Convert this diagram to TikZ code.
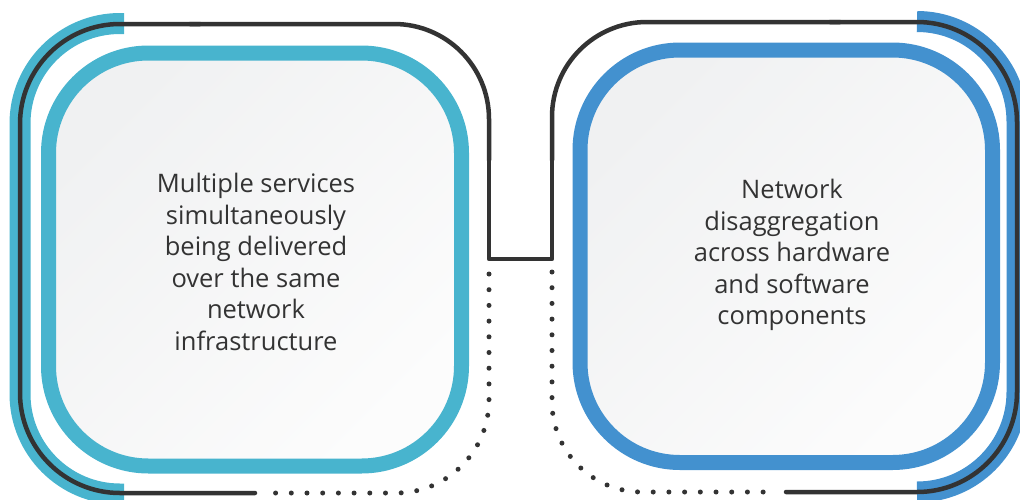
\documentclass[tikz,border=0pt]{standalone}
\usepackage{fontspec}
\setmainfont{Open Sans}
\definecolor{cyanband}{HTML}{48B4CE}
\definecolor{blueband}{HTML}{4391CF}
\definecolor{ink}{HTML}{333333}
\definecolor{fillA}{HTML}{F0F1F2}
\definecolor{fillB}{HTML}{FCFCFC}
\tikzset{
  band/.style={line width=21pt},
  blackline/.style={ink, line width=4.5pt, line cap=round, line join=round},
  dotline/.style={ink, line width=5pt, line cap=round, dash pattern=on 0pt off 15.7pt},
  panel/.style={line width=15pt, top color=fillA, bottom color=fillB, shading angle=45, rounded corners=100pt},
  txt/.style={align=center, text=ink, font=\fontsize{25.5}{31.6}\selectfont, inner sep=0pt}
}
\begin{document}
\begin{tikzpicture}[x=1pt,y=-1pt]
\useasboundingbox (0,0) rectangle (1020,499);
\clip (0,0) rectangle (1020,499);
% outer coloured bands
\draw[band, cyanband, rounded corners=100pt] (124,23.5) -- (20,23.5) -- (20,494) -- (124,494);
\draw[band, blueband, rounded corners=100pt] (917,21.5) -- (1017,21.5) -- (1017,492) -- (917,492);
% black outline
\draw[blackline, rounded corners=100pt] (255,493) -- (20,493) -- (20,24) -- (200,24);
\draw[blackline, rounded corners=95pt] (190,24) -- (489,24) -- (489,160);
\draw[blackline] (489,150) -- (489,259) -- (552,259) -- (552,150);
\draw[blackline, rounded corners=95pt] (552,160) -- (552,22) -- (840,22);
\draw[blackline, rounded corners=100pt] (830,22) -- (1017,22) -- (1017,492) -- (786,492);
% dotted connectors
\draw[dotline, rounded corners=93pt] (489,274) -- (489,493) -- (268,493);
\draw[dotline, rounded corners=90pt] (552,272) -- (552,492) -- (772,492);
% panels
\draw[panel, cyanband] (48.5,53) rectangle (461.5,466);
\draw[panel, blueband] (580,50) rectangle (992.5,462.5);
% texts
\node[txt] (lefttext) at (256,262) {Multiple services\\simultaneously\\being delivered\\over the same\\network\\infrastructure};
\node[txt] (righttext) at (792,255) {Network\\disaggregation\\across hardware\\and software\\components};
\end{tikzpicture}
\end{document}
